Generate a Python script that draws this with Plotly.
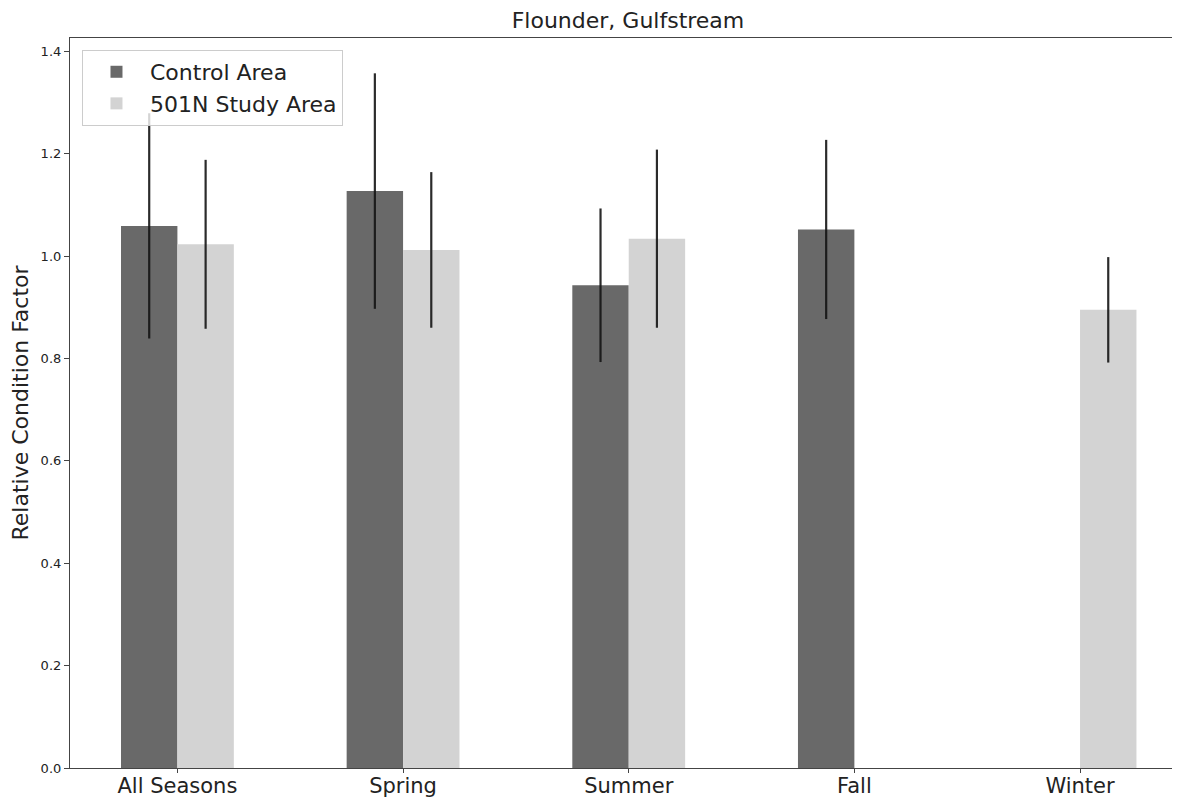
import plotly.graph_objects as go

categories = ["All Seasons", "Spring", "Summer", "Fall", "Winter"]
control_values = [1.059, 1.127, 0.943, 1.052, None]
control_errors = [0.220, 0.230, 0.150, 0.175, None]
study_values = [1.023, 1.012, 1.034, None, 0.895]
study_errors = [0.165, 0.152, 0.174, None, 0.103]
y_ticks = [0.0, 0.2, 0.4, 0.6, 0.8, 1.0, 1.2, 1.4]
y_tick_labels = ["0.0", "0.2", "0.4", "0.6", "0.8", "1.0", "1.2", "1.4"]

font_family = "DejaVu Sans"
err_color = "rgba(20,20,20,0.9)"
text_color = "#222"

fig = go.Figure()
fig.add_trace(go.Bar(
    x=categories, y=control_values, name="Control Area",
    marker=dict(color="#696969", line=dict(width=0)),
    error_y=dict(type="data", array=control_errors, visible=True,
                 color=err_color, thickness=2.2, width=0),
))
fig.add_trace(go.Bar(
    x=categories, y=study_values, name="501N Study Area",
    marker=dict(color="#d3d3d3", line=dict(width=0)),
    error_y=dict(type="data", array=study_errors, visible=True,
                 color=err_color, thickness=2.2, width=0),
))

# page body adds an 8px offset, so the figure is drawn 8px smaller
fig.update_layout(
    width=1172, height=792,
    margin=dict(l=62, r=0, t=30, b=32, autoexpand=False),
    paper_bgcolor="white", plot_bgcolor="white",
    barmode="group", bargap=0.5, bargroupgap=0,
    font=dict(family=font_family, color=text_color),
    title=dict(text="Flounder, Gulfstream", x=0.529, xanchor="center",
               y=0.985, yanchor="middle",
               font=dict(size=22, family=font_family, color=text_color)),
    showlegend=True,
    legend=dict(x=0.0108, y=0.9836, xanchor="left", yanchor="top",
                bgcolor="rgba(255,255,255,0.8)", bordercolor="#cccccc",
                borderwidth=1, font=dict(size=22, family=font_family, color=text_color),
                itemwidth=57, tracegroupgap=0),
)
fig.update_xaxes(
    range=[-0.476, 4.443], showgrid=False, zeroline=False,
    showline=True, linecolor="#444", linewidth=1.2, mirror=True,
    ticks="outside", ticklen=4, tickcolor="#444", ticklabelstandoff=-5,
    tickfont=dict(size=21, family=font_family, color=text_color),
)
fig.update_yaxes(
    range=[0, 1.426], showgrid=False, zeroline=False,
    showline=True, linecolor="#444", linewidth=1.2,
    ticks="outside", ticklen=5, tickcolor="#444",
    tickvals=y_ticks, ticktext=y_tick_labels,
    tickfont=dict(size=13, family=font_family, color=text_color),
    title=dict(text="Relative Condition Factor", standoff=10,
               font=dict(size=22, family=font_family, color=text_color)),
)

fig.write_html("out.html")
